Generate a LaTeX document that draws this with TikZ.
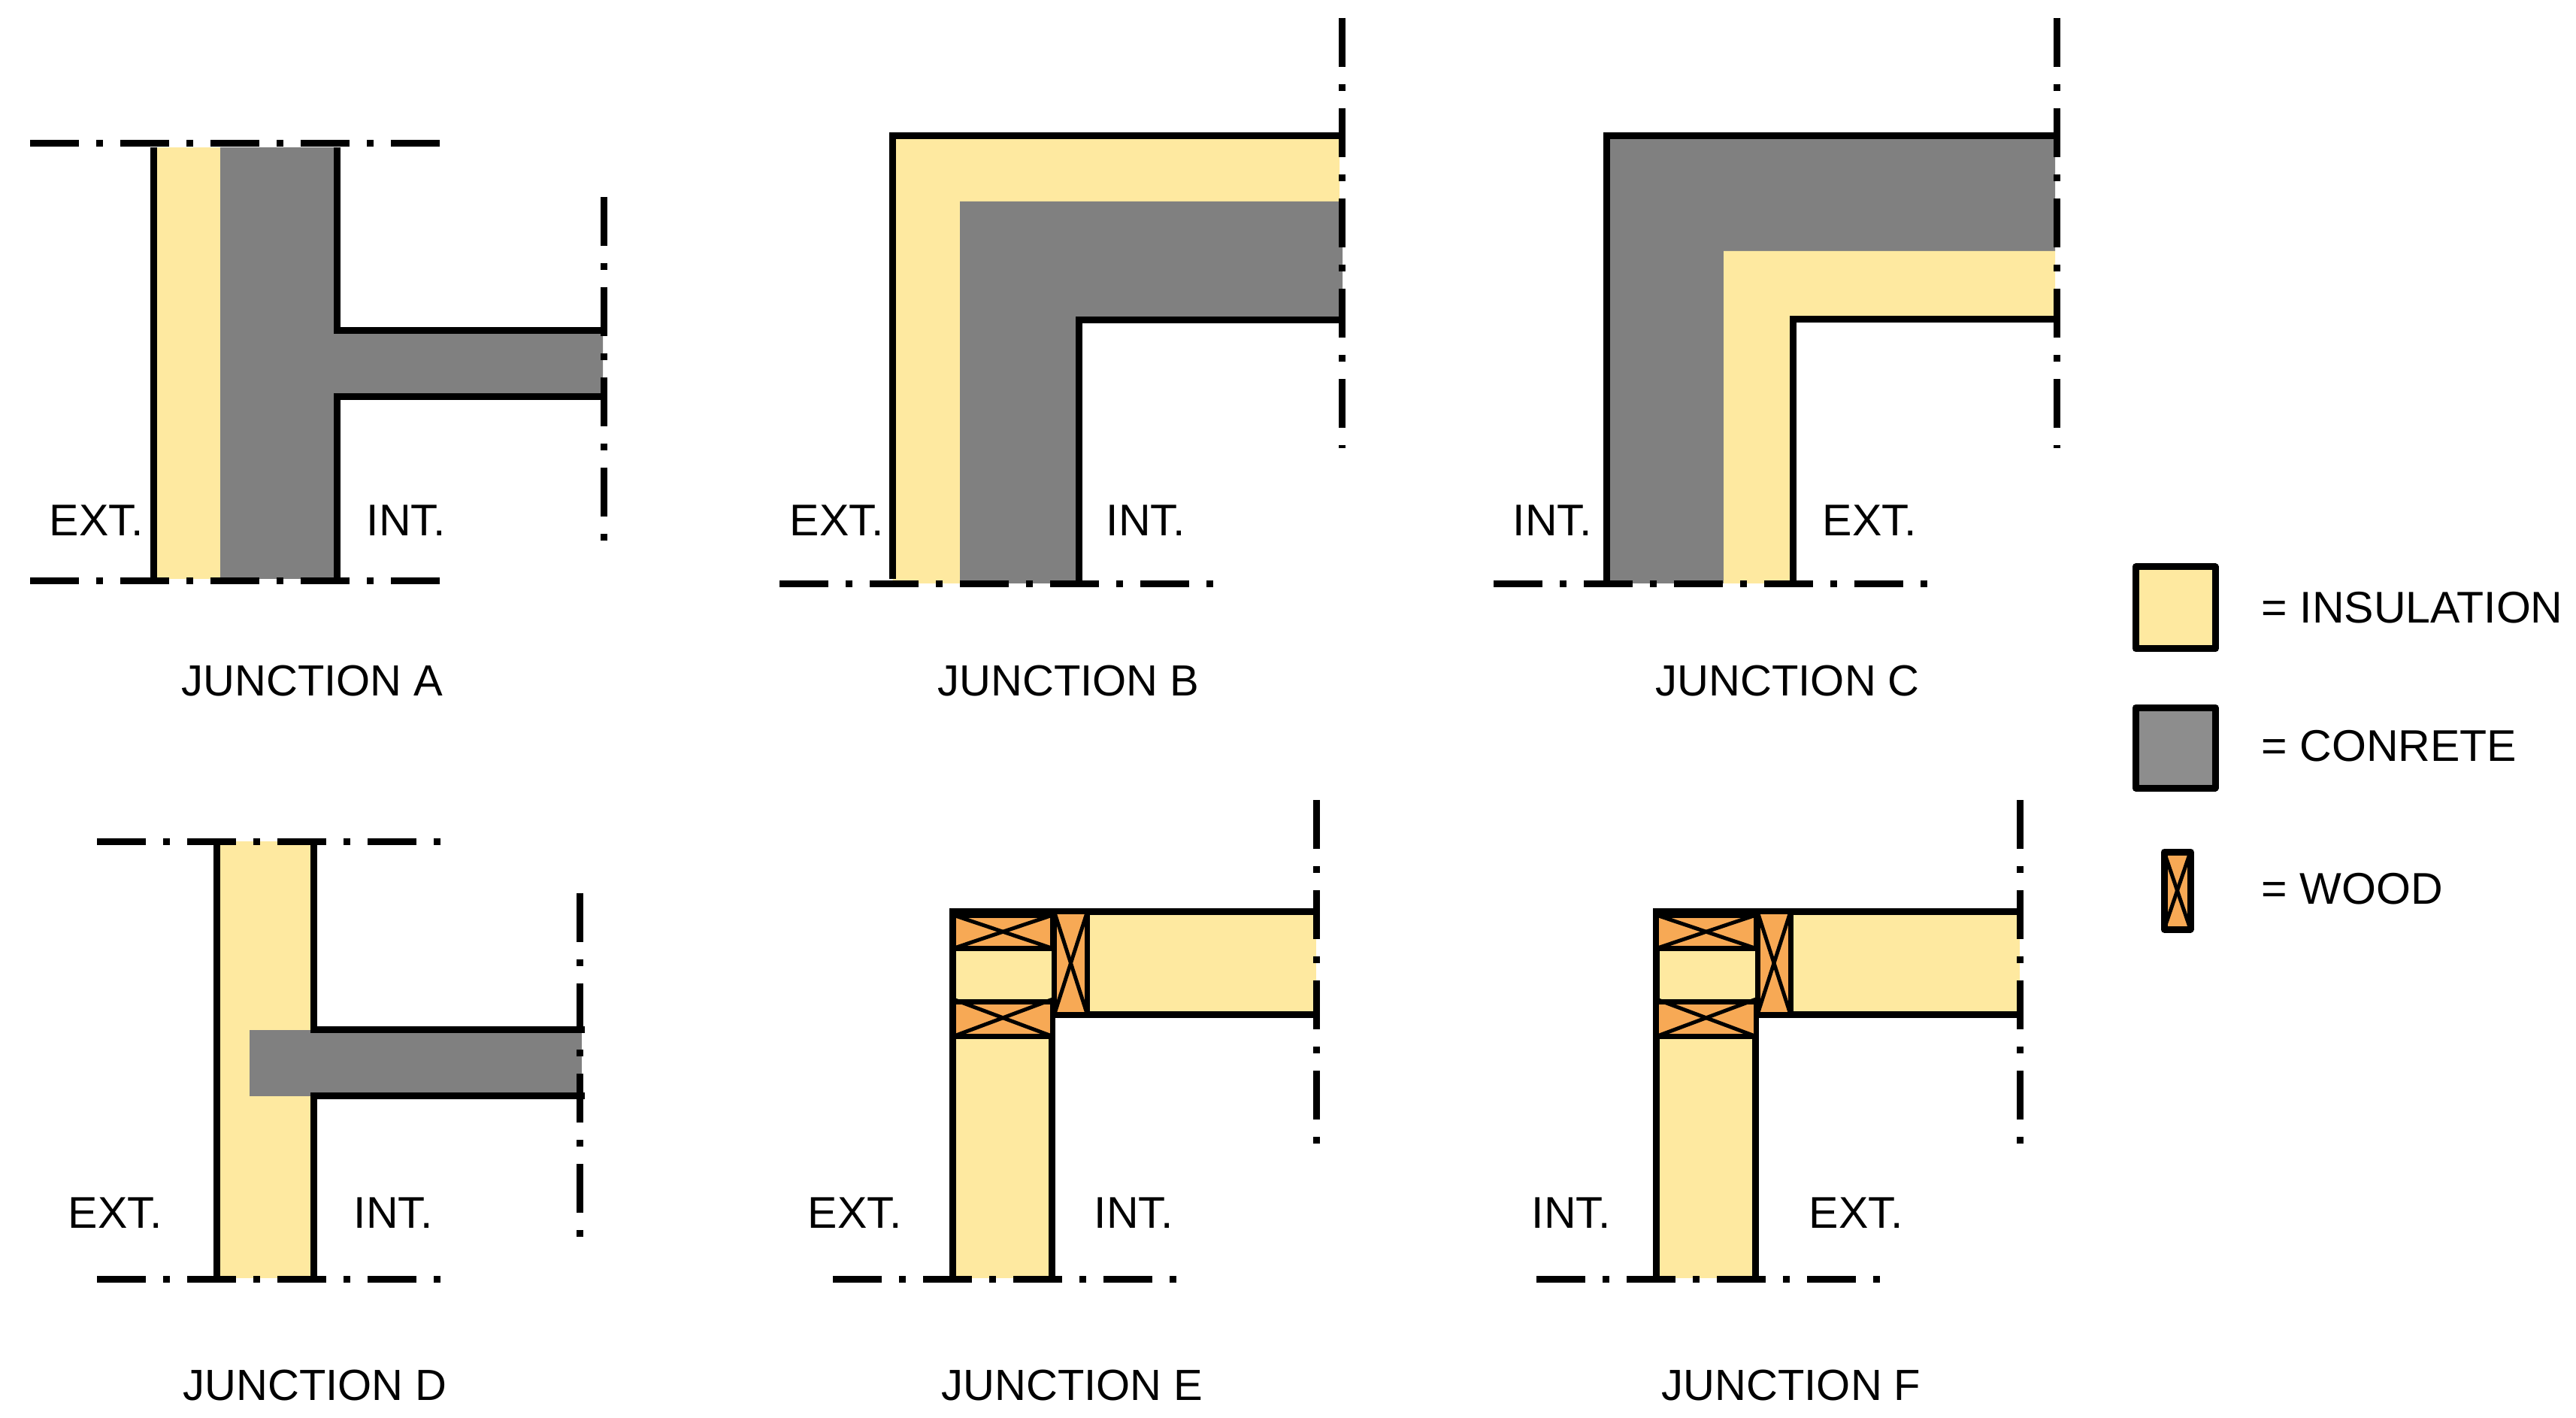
\documentclass[tikz,border=0pt]{standalone}
\usepackage{fontspec}
\setmainfont{Liberation Sans}
\definecolor{insul}{HTML}{FEE9A0}
\definecolor{concr}{HTML}{808080}
\definecolor{timber}{HTML}{F7A955}
\tikzset{
    wall/.style={line width=0.09cm, line join=miter},
    cutline/.style={line width=0.09cm, dash pattern=on 0.65cm off 0.23cm on 0.09cm off 0.23cm},
    woodbox/.style={line width=0.07cm, fill=timber},
    woodx/.style={line width=0.05cm},
    lbl/.style={font=\fontsize{16.8}{20}\selectfont, inner sep=0pt, anchor=base west},
    capt/.style={font=\fontsize{16.5}{20}\selectfont, inner sep=0pt, anchor=base west},
    swatch/.style={line width=0.09cm, line join=round}
}
\begin{document}
\begin{tikzpicture}
    \useasboundingbox (0, 0) rectangle (34.27, -18.86);

    % junction A
    \fill[insul] (2.045, -1.96) rectangle (2.93, -7.70);
    \fill[concr] (2.93, -1.96) -- (4.485, -1.96) -- (4.485, -4.395) -- (8.02, -4.395) -- (8.02, -5.275) -- (4.485, -5.275) -- (4.485, -7.70) -- (2.93, -7.70) -- cycle;
    \draw[wall] (2.045, -1.96) -- (2.045, -7.73);
    \draw[wall] (4.485, -1.96) -- (4.485, -4.395) -- (8.035, -4.395);
    \draw[wall] (8.035, -5.275) -- (4.485, -5.275) -- (4.485, -7.73);
    \draw[cutline] (0.40, -1.905) -- (5.85, -1.905);
    \draw[cutline] (0.40, -7.73) -- (5.85, -7.73);
    \draw[cutline] (8.035, -2.62) -- (8.035, -7.19);
    \node[lbl] (extA) at (0.65, -7.13) {EXT.};
    \node[lbl] (intA) at (4.87, -7.13) {INT.};
    \node[capt] (capA) at (2.41, -9.26) {JUNCTION A};

    % junction B
    \fill[insul] (11.875, -1.805) -- (17.82, -1.805) -- (17.82, -2.68) -- (12.77, -2.68) -- (12.77, -7.76) -- (11.875, -7.76) -- cycle;
    \fill[concr] (12.77, -2.68) -- (17.86, -2.68) -- (17.86, -4.255) -- (14.355, -4.255) -- (14.355, -7.76) -- (12.77, -7.76) -- cycle;
    \draw[wall] (17.855, -1.805) -- (11.875, -1.805) -- (11.875, -7.70);
    \draw[wall] (17.855, -4.255) -- (14.355, -4.255) -- (14.355, -7.76);
    \draw[cutline] (10.37, -7.77) -- (16.14, -7.77);
    \draw[cutline] (17.855, -0.24) -- (17.855, -5.96);
    \node[lbl] (extB) at (10.50, -7.13) {EXT.};
    \node[lbl] (intB) at (14.71, -7.13) {INT.};
    \node[capt] (capB) at (12.47, -9.26) {JUNCTION B};

    % junction C
    \fill[concr] (21.37, -1.81) -- (27.34, -1.81) -- (27.34, -3.34) -- (22.93, -3.34) -- (22.93, -7.76) -- (21.37, -7.76) -- cycle;
    \fill[insul] (22.93, -3.34) -- (27.34, -3.34) -- (27.34, -4.25) -- (23.85, -4.25) -- (23.85, -7.76) -- (22.93, -7.76) -- cycle;
    \draw[wall] (27.36, -1.81) -- (21.37, -1.81) -- (21.37, -7.76);
    \draw[wall] (27.36, -4.25) -- (23.85, -4.25) -- (23.85, -7.76);
    \draw[cutline] (19.87, -7.77) -- (25.64, -7.77);
    \draw[cutline] (27.36, -0.24) -- (27.36, -5.96);
    \node[lbl] (intC) at (20.12, -7.13) {INT.};
    \node[lbl] (extC) at (24.24, -7.13) {EXT.};
    \node[capt] (capC) at (22.02, -9.26) {JUNCTION C};

    % junction D
    \fill[insul] (2.88, -11.19) rectangle (4.17, -17.00);
    \fill[concr] (3.32, -13.695) rectangle (7.74, -14.575);
    \draw[wall] (2.88, -11.19) -- (2.88, -17.00);
    \draw[wall] (4.17, -11.19) -- (4.17, -13.695) -- (7.78, -13.695);
    \draw[wall] (7.78, -14.575) -- (4.17, -14.575) -- (4.17, -17.00);
    \draw[cutline] (1.29, -11.19) -- (5.86, -11.19);
    \draw[cutline] (1.29, -17.01) -- (5.86, -17.01);
    \draw[cutline] (7.715, -11.88) -- (7.715, -16.45);
    \node[lbl] (extD) at (0.90, -16.33) {EXT.};
    \node[lbl] (intD) at (4.70, -16.33) {INT.};
    \node[capt] (capD) at (2.43, -18.62) {JUNCTION D};

    % junction E
    \fill[insul] (12.68, -12.61) rectangle (13.995, -17.00);
    \fill[insul] (14.46, -12.125) rectangle (17.51, -13.495);
    \draw[wall] (12.675, -17.00) -- (12.675, -12.125) -- (17.51, -12.125);
    \draw[wall] (13.995, -13.79) -- (13.995, -17.00);
    \draw[wall] (14.00, -13.495) -- (17.51, -13.495);
    \draw[woodbox] (12.68, -12.17) rectangle (14.005, -12.615);
    \draw[woodx] (12.68, -12.17) -- (14.005, -12.615);
    \draw[woodx] (12.68, -12.615) -- (14.005, -12.17);
    \draw[woodbox] (12.68, -13.325) rectangle (14.005, -13.785);
    \draw[woodx] (12.68, -13.29) -- (14.005, -13.785);
    \draw[woodx] (12.68, -13.785) -- (14.005, -13.29);
    \draw[woodbox] (14.025, -12.125) rectangle (14.465, -13.495);
    \draw[woodx] (14.025, -12.125) -- (14.465, -13.495);
    \draw[woodx] (14.025, -13.495) -- (14.465, -12.125);
    \draw[cutline] (11.08, -17.01) -- (15.65, -17.01);
    \draw[cutline] (17.51, -10.64) -- (17.51, -15.21);
    \node[lbl] (extE) at (10.74, -16.33) {EXT.};
    \node[lbl] (intE) at (14.55, -16.33) {INT.};
    \node[capt] (capE) at (12.52, -18.62) {JUNCTION E};

    % junction F
    \fill[insul] (22.03, -12.61) rectangle (23.35, -17.00);
    \fill[insul] (23.82, -12.125) rectangle (26.87, -13.495);
    \draw[wall] (22.03, -17.00) -- (22.03, -12.125) -- (26.87, -12.125);
    \draw[wall] (23.35, -13.79) -- (23.35, -17.00);
    \draw[wall] (23.36, -13.495) -- (26.87, -13.495);
    \draw[woodbox] (22.035, -12.17) rectangle (23.36, -12.615);
    \draw[woodx] (22.035, -12.17) -- (23.36, -12.615);
    \draw[woodx] (22.035, -12.615) -- (23.36, -12.17);
    \draw[woodbox] (22.035, -13.325) rectangle (23.36, -13.785);
    \draw[woodx] (22.035, -13.29) -- (23.36, -13.785);
    \draw[woodx] (22.035, -13.785) -- (23.36, -13.29);
    \draw[woodbox] (23.38, -12.125) rectangle (23.82, -13.495);
    \draw[woodx] (23.38, -12.125) -- (23.82, -13.495);
    \draw[woodx] (23.38, -13.495) -- (23.82, -12.125);
    \draw[cutline] (20.44, -17.01) -- (25.01, -17.01);
    \draw[cutline] (26.87, -10.64) -- (26.87, -15.21);
    \node[lbl] (intF) at (20.37, -16.33) {INT.};
    \node[lbl] (extF) at (24.06, -16.33) {EXT.};
    \node[capt] (capF) at (22.10, -18.62) {JUNCTION F};

    % legend
    \draw[swatch, fill=insul] (28.41, -7.54) rectangle (29.47, -8.63);
    \draw[swatch, fill=concr!90!white] (28.41, -9.41) rectangle (29.47, -10.48);
    \draw[swatch, fill=timber] (28.79, -11.33) rectangle (29.14, -12.36);
    \draw[woodx] (28.79, -11.33) -- (29.14, -12.36);
    \draw[woodx] (28.79, -12.36) -- (29.14, -11.33);
    \node[lbl] (keyI) at (30.08, -8.28) {= INSULATION};
    \node[lbl] (keyC) at (30.08, -10.12) {= CONRETE};
    \node[lbl] (keyW) at (30.08, -12.02) {= WOOD};
\end{tikzpicture}
\end{document}
